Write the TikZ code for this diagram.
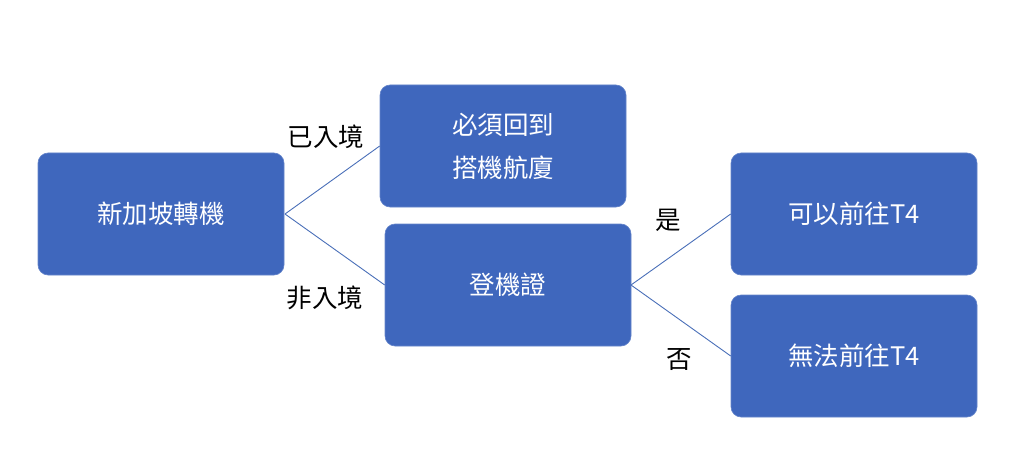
\documentclass[tikz,border=0pt]{standalone}
\usepackage{fontspec}
\newfontfamily\cjk{Noto Sans CJK TC}
\definecolor{boxblue}{HTML}{3F67BD}
\definecolor{lineblue}{HTML}{4A6FB8}
\begin{document}
\begin{tikzpicture}[x=1pt,y=-1pt,
  flowbox/.style={draw=boxblue!80!white,line width=0.6pt,fill=boxblue,rounded corners=10pt,
    minimum width=246pt,minimum height=122pt,inner sep=0pt,text=white,align=center,
    font=\cjk\fontsize{25.5}{43}\selectfont},
  lbl/.style={font=\cjk\fontsize{25.5}{30}\selectfont,text=black,inner sep=0pt},
  conn/.style={draw=lineblue,line width=0.9pt}]
\useasboundingbox (0,0) rectangle (1024,449);
\node[flowbox] (a) at (161,214) {新加坡轉機};
\node[flowbox] (b) at (503,146) {必須回到\\搭機航廈};
\node[flowbox] (c) at (508,285) {登機證};
\node[flowbox] (d) at (854,214) {可以前往T4};
\node[flowbox] (e) at (854,356) {無法前往T4};
\coordinate (aout) at (285,214);
\coordinate (cout) at (631,285);
\draw[conn] (aout) -- (b.west);
\draw[conn] (aout) -- (c.west);
\draw[conn] (cout) -- (d.west);
\draw[conn] (cout) -- (e.west);
\node[lbl] (l1) at (326,137) {已入境};
\node[lbl] (l2) at (325,298) {非入境};
\node[lbl] (l3) at (668,220) {是};
\node[lbl] (l4) at (679,360) {否};
\end{tikzpicture}
\end{document}
